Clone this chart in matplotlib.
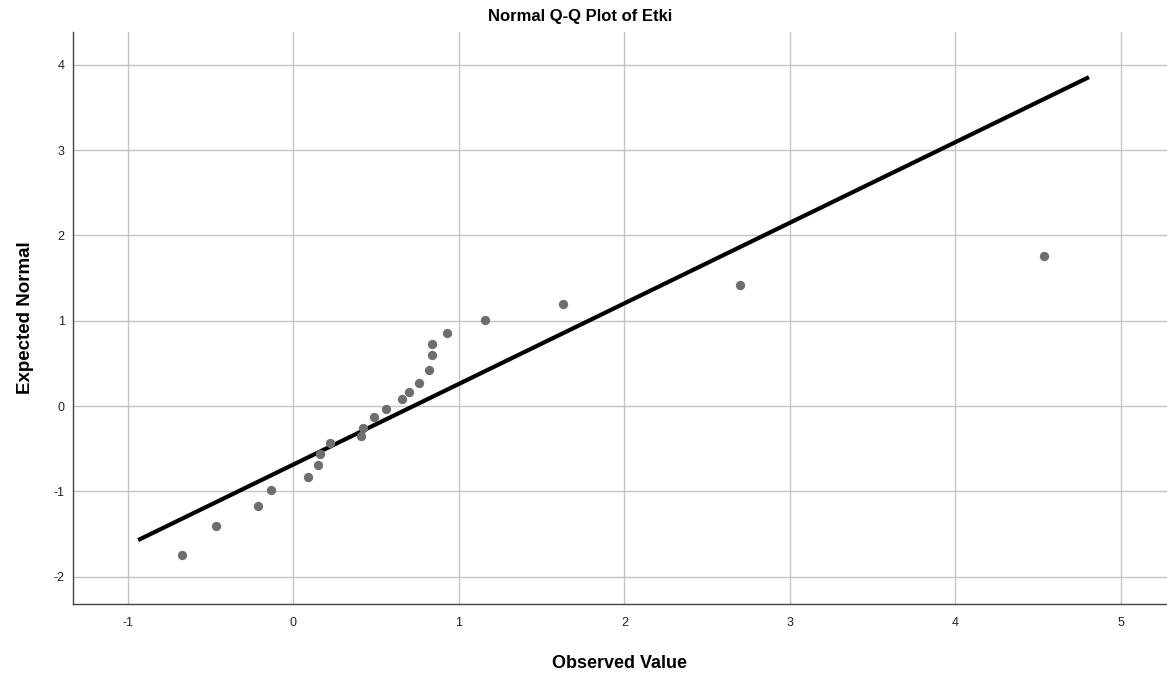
import matplotlib
matplotlib.use("Agg")
import matplotlib.pyplot as plt

plt.rcParams['font.family'] = ['Liberation Sans', 'DejaVu Sans']

observed = [-0.675, -0.468, -0.213, -0.136, 0.086, 0.15, 0.16, 0.22, 0.406, 0.42,
            0.486, 0.56, 0.654, 0.70, 0.76, 0.82, 0.835, 0.84, 0.925, 1.157,
            1.628, 2.70, 4.535]
expected = [-1.75, -1.40, -1.17, -0.985, -0.83, -0.69, -0.56, -0.43, -0.35, -0.26,
            -0.125, -0.03, 0.08, 0.17, 0.27, 0.42, 0.60, 0.73, 0.86, 1.01,
            1.20, 1.42, 1.76]
line_x = [-0.927, 4.795]
line_y = [-1.56, 3.845]
xticks = [-1, 0, 1, 2, 3, 4, 5]
yticks = [-2, -1, 0, 1, 2, 3, 4]

fig = plt.figure(figsize=(11.67, 6.77), dpi=100)
ax = fig.add_axes([73/1167, 1-604/677, (1167-73)/1167, (604-32)/677])

ax.set_xlim(-1.332, 5.278)
ax.set_ylim(-2.32, 4.385)
ax.set_xticks(xticks)
ax.set_yticks(yticks)
ax.set_xticklabels([str(t) for t in xticks])
ax.set_yticklabels([str(t) for t in yticks])
ax.grid(True, color='#c4c4c4', linewidth=1.0)
ax.set_axisbelow(True)
for s in ['top', 'right']:
    ax.spines[s].set_visible(False)
for s in ['left', 'bottom']:
    ax.spines[s].set_color('#444444')
    ax.spines[s].set_linewidth(1.0)
ax.tick_params(axis='both', length=0, labelsize=9, colors='#222222')
ax.tick_params(axis='x', pad=9)
ax.tick_params(axis='y', pad=6)

ax.plot(line_x, line_y, color='black', linewidth=3, zorder=3)
ax.scatter(observed, expected, s=45, color='#6e6e6e', zorder=4, linewidths=0)

fig.text(580/1167, 1-16/677, 'Normal Q-Q Plot of Etki', ha='center', va='center',
         fontsize=12, fontweight='bold')
ax.set_xlabel('Observed Value', fontsize=13, fontweight='bold', labelpad=19)
ax.set_ylabel('Expected Normal', fontsize=13.5, fontweight='bold', labelpad=14)

fig.savefig('out.png', dpi=100)
